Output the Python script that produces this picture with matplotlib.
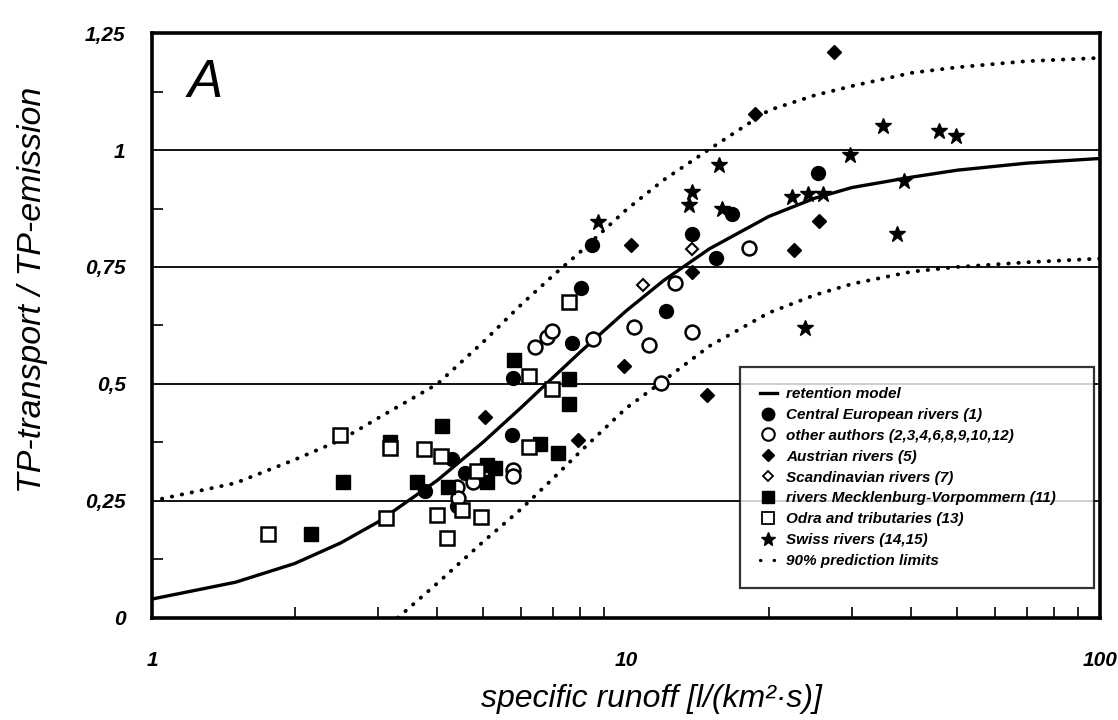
import matplotlib
matplotlib.use('Agg')
import matplotlib.pyplot as plt
from matplotlib.lines import Line2D

# retention model and 90% prediction limits
model_q = [1, 1.5, 2, 2.5, 3, 4, 5, 6, 7, 8, 10, 12, 15, 20, 25, 30, 40, 50, 70, 100]
model_y = [0.04, 0.076, 0.116, 0.16, 0.205, 0.294, 0.376, 0.449, 0.513, 0.568, 0.656,
           0.721, 0.789, 0.858, 0.897, 0.92, 0.942, 0.957, 0.972, 0.982]
upper_q = [1, 1.5, 2, 2.5, 3, 4, 5, 6, 7, 8, 10, 12, 15, 20, 25, 30, 40, 50, 70, 100]
upper_y = [0.25, 0.288, 0.338, 0.38, 0.427, 0.5, 0.59, 0.669, 0.731, 0.782, 0.872,
           0.936, 1.002, 1.085, 1.117, 1.137, 1.165, 1.177, 1.19, 1.197]
lower_q = [3.3, 4, 5, 6, 7, 8, 10, 12, 15, 20, 25, 30, 40, 50, 70, 100]
lower_y = [0.0, 0.074, 0.163, 0.232, 0.297, 0.355, 0.448, 0.507, 0.581, 0.652, 0.69,
           0.714, 0.74, 0.75, 0.76, 0.768]

# measured rivers: specific runoff and TP-transport / TP-emission
central_q = [3.77, 4.29, 4.39, 4.57, 5.74, 5.77, 7.68, 8.05, 8.47, 12.13, 13.8, 15.5, 16.7, 25.4]
central_y = [0.27, 0.34, 0.24, 0.31, 0.39, 0.513, 0.587, 0.706, 0.798, 0.656, 0.821, 0.77, 0.863, 0.95]

other_q = [4.39, 4.43, 4.75, 5.78, 5.78, 6.43, 6.8, 6.99, 8.53, 10.4, 11.18, 11.85, 12.7, 13.8, 18.2]
other_y = [0.28, 0.255, 0.29, 0.316, 0.304, 0.578, 0.601, 0.613, 0.595, 0.621, 0.583, 0.501,
           0.716, 0.61, 0.79]

austria_q = [5.04, 7.91, 9.9, 10.24, 13.76, 14.8, 18.7, 22.6, 25.5, 27.5]
austria_y = [0.43, 0.38, 0.538, 0.796, 0.74, 0.476, 1.077, 0.786, 0.849, 1.209]

scandi_q = [10.85, 13.8]
scandi_y = [0.712, 0.788]

meck_q = [2.16, 2.53, 3.18, 3.62, 4.08, 4.22, 5.1, 5.1, 5.3, 5.8, 6.59, 7.2, 7.59, 7.59]
meck_y = [0.18, 0.29, 0.375, 0.29, 0.41, 0.28, 0.327, 0.29, 0.32, 0.551, 0.372, 0.353, 0.51, 0.457]

odra_q = [1.76, 2.49, 3.12, 3.17, 3.75, 4.0, 4.07, 4.19, 4.5, 4.84, 4.94, 6.25, 6.25, 6.99, 7.58]
odra_y = [0.18, 0.39, 0.213, 0.363, 0.36, 0.219, 0.345, 0.17, 0.231, 0.313, 0.215, 0.365,
          0.516, 0.489, 0.675]

swiss_q = [8.72, 13.6, 13.8, 15.7, 15.9, 22.4, 23.8, 24.2, 26.0, 29.7, 34.9, 37.2, 38.5, 45.8, 49.7]
swiss_y = [0.847, 0.882, 0.911, 0.968, 0.873, 0.899, 0.62, 0.905, 0.907, 0.99, 1.051, 0.821,
           0.933, 1.041, 1.031]

y_ticks = [0, 0.25, 0.5, 0.75, 1, 1.25]
y_tick_labels = ['0', '0,25', '0,5', '0,75', '1', '1,25']
x_ticks = [1, 10, 100]
x_tick_labels = ['1', '10', '100']


def main():
    plt.rcParams['font.family'] = ['Liberation Sans', 'DejaVu Sans']

    fig = plt.figure(figsize=(11.18, 7.2), dpi=100)
    ax = fig.add_axes([0.136, 0.142, 0.848, 0.812])

    # horizontal grid lines
    for g in [0.25, 0.5, 0.75, 1.0]:
        ax.axhline(g, color='black', linewidth=1.3, zorder=1)

    # model curve and prediction limits
    ax.plot(model_q, model_y, color='black', linewidth=2.4, zorder=2)
    dots = dict(color='black', linewidth=2.8, linestyle=(0, (0.1, 2.5)),
                dash_capstyle='round', zorder=2)
    ax.plot(upper_q, upper_y, **dots)
    ax.plot(lower_q, lower_y, **dots)

    # the rivers
    ax.plot(central_q, central_y, 'o', ms=10, mfc='black', mec='black', zorder=3)
    ax.plot(other_q, other_y, 'o', ms=10, mfc='white', mec='black', mew=1.8, zorder=3)
    ax.plot(austria_q, austria_y, 'D', ms=7, mfc='black', mec='black', zorder=3)
    ax.plot(scandi_q, scandi_y, 'D', ms=6, mfc='white', mec='black', mew=1.5, zorder=3)
    ax.plot(meck_q, meck_y, 's', ms=9.5, mfc='black', mec='black', zorder=3)
    ax.plot(odra_q, odra_y, 's', ms=9.5, mfc='white', mec='black', mew=1.8, zorder=3)
    ax.plot(swiss_q, swiss_y, '*', ms=12, mfc='black', mec='black', zorder=3)

    ax.set_xscale('log')
    ax.set_xlim(1, 100)
    ax.set_ylim(0, 1.25)

    # ticks: labels only on the majors, small inward ticks on the minors
    ax.set_xticks(x_ticks)
    ax.set_xticklabels(x_tick_labels)
    ax.set_yticks(y_ticks)
    ax.set_yticklabels(y_tick_labels)
    ax.set_yticks([0.125, 0.375, 0.625, 0.875, 1.125], minor=True)
    ax.tick_params(axis='both', which='major', length=0, labelsize=15)
    ax.tick_params(axis='x', which='major', pad=24)
    ax.tick_params(axis='y', which='major', pad=19)
    ax.tick_params(axis='both', which='minor', direction='in', length=8, width=1.2)
    ax.tick_params(axis='x', which='minor', labelbottom=False)
    for lab in ax.get_xticklabels() + ax.get_yticklabels():
        lab.set_fontweight('bold')
        lab.set_fontstyle('italic')

    for s in ax.spines.values():
        s.set_linewidth(2.6)

    ax.set_xlabel('specific runoff [l/(km²·s)]', fontsize=23, style='italic')
    ax.xaxis.set_label_coords(0.527, -0.113)
    ax.set_ylabel('TP-transport / TP-emission', fontsize=24.5, style='italic')
    ax.yaxis.set_label_coords(-0.11, 0.56)

    ax.text(0.037, 0.915, 'A', transform=ax.transAxes, fontsize=38, style='italic',
            va='center', ha='left')

    # legend, in the order of the original
    handles = [
        Line2D([], [], color='black', linewidth=2.4),
        Line2D([], [], marker='o', ls='', ms=9, mfc='black', mec='black'),
        Line2D([], [], marker='o', ls='', ms=9, mfc='white', mec='black', mew=1.5),
        Line2D([], [], marker='D', ls='', ms=6, mfc='black', mec='black'),
        Line2D([], [], marker='D', ls='', ms=5, mfc='white', mec='black', mew=1.3),
        Line2D([], [], marker='s', ls='', ms=8, mfc='black', mec='black'),
        Line2D([], [], marker='s', ls='', ms=8, mfc='white', mec='black', mew=1.3),
        Line2D([], [], marker='*', ls='', ms=10, mfc='black', mec='black'),
        Line2D([], [], color='black', linewidth=2.4, linestyle=(0, (0.1, 4.0)),
               dash_capstyle='round'),
    ]
    labels = [
        'retention model',
        'Central European rivers (1)',
        'other authors (2,3,4,6,8,9,10,12)',
        'Austrian rivers (5)',
        'Scandinavian rivers (7)',
        'rivers Mecklenburg-Vorpommern (11)',
        'Odra and tributaries (13)',
        'Swiss rivers (14,15)',
        '90% prediction limits',
    ]
    leg = ax.legend(handles, labels, loc='lower left',
                    bbox_to_anchor=(0.62, 0.051, 0.374, 0.39), mode='expand',
                    borderaxespad=0, fancybox=False, frameon=True, handlelength=1.1,
                    handletextpad=0.65, labelspacing=0.45, borderpad=1.3,
                    prop={'size': 11, 'style': 'italic', 'weight': 'bold'})
    leg.get_frame().set_edgecolor('black')
    leg.get_frame().set_linewidth(1.6)
    leg.set_zorder(5)

    fig.savefig('out.png', dpi=100)


if __name__ == '__main__':
    main()
